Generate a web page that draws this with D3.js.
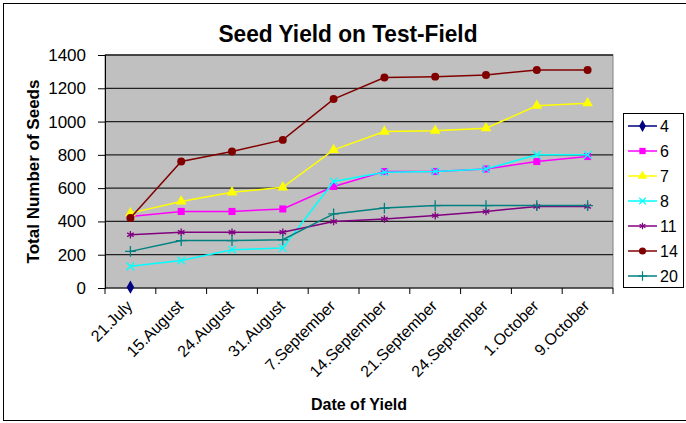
<!DOCTYPE html>
<html>
<head>
<meta charset="utf-8">
<script src="https://cdn.jsdelivr.net/npm/d3@7"></script>
<style>
  body { margin: 0; background: #fff; }
  text { font-family: "Liberation Sans", Arial, sans-serif; }
</style>
</head>
<body>
<div id="chart"></div>
<script>
// categories (dates of yield)
var dates = ["21.July", "15.August", "24.August", "31.August", "7.September",
             "14.September", "21.September", "24.September", "1.October", "9.October"];
var yTicks = [0, 200, 400, 600, 800, 1000, 1200, 1400];

// one array per plant
var s4  = [5, null, null, null, null, null, null, null, null, null];
var s6  = [430, 460, 460, 475, 610, 700, 700, 715, 760, 790];
var s7  = [450, 520, 575, 605, 830, 940, 945, 960, 1095, 1110];
var s8  = [130, 165, 230, 240, 640, 695, 700, 715, 800, 800];
var s11 = [320, 335, 335, 335, 400, 415, 435, 460, 490, 490];
var s14 = [420, 760, 820, 890, 1135, 1265, 1270, 1280, 1310, 1310];
var s20 = [220, 285, 285, 290, 445, 480, 495, 495, 495, 495];

var seriesNames = ["4", "6", "7", "8", "11", "14", "20"];
var seriesData = [s4, s6, s7, s8, s11, s14, s20];
var colors = ["#000080", "#ff00ff", "#ffff00", "#00ffff", "#800080", "#800000", "#008080"];
var symbols = [d3.symbolDiamond, d3.symbolSquare, d3.symbolTriangle, d3.symbolTimes,
               d3.symbolAsterisk, d3.symbolCircle, d3.symbolPlus];
var stroked = [false, false, false, true, true, false, true];

var W = 686, H = 423;
var margin = {top: 55, right: 73, bottom: 135, left: 105}
  , width = W - margin.left - margin.right
  , height = H - margin.top - margin.bottom;

var svg = d3.select("#chart").append("svg")
    .attr("width", W)
    .attr("height", H);

// outer chart border
svg.append("rect")
    .attr("x", 3.5).attr("y", 3.5)
    .attr("width", 690).attr("height", 417)
    .attr("fill", "none")
    .attr("stroke", "#000");

svg.append("text")
    .attr("x", 348)
    .attr("y", 42)
    .attr("text-anchor", "middle")
    .attr("textLength", 259)
    .attr("lengthAdjust", "spacingAndGlyphs")
    .style("font-size", "24px")
    .style("font-weight", "bold")
    .text("Seed Yield on Test-Field");

var g = svg.append("g")
    .attr("transform", "translate(" + margin.left + "," + margin.top + ")");

var xScale = d3.scaleBand()
    .domain(dates)
    .range([0, width])
    .padding(0);

var yScale = d3.scaleLinear()
    .domain([0, 1400])
    .range([height, 0]);

var cx = function(i) { return xScale(dates[i]) + xScale.bandwidth() / 2; };

// plot background
g.append("rect")
    .attr("width", width)
    .attr("height", height)
    .attr("fill", "#c0c0c0")
    .attr("stroke", "#808080");

// grid lines
g.selectAll(".grid")
    .data(yTicks.slice(1))
  .enter().append("line")
    .attr("class", "grid")
    .attr("x1", 0).attr("x2", width)
    .attr("y1", function(d) { return yScale(d); })
    .attr("y2", function(d) { return yScale(d); })
    .attr("stroke", "#222")
    .attr("stroke-width", 1.3);

// y axis
var yAxis = g.append("g")
    .call(d3.axisLeft(yScale).tickValues(yTicks).tickFormat(d3.format("d"))
        .tickSize(7).tickPadding(12));
yAxis.select(".domain").attr("stroke", "#000");
yAxis.selectAll("text").style("font-size", "17px").style("fill", "#000");

// x axis: ticks between categories, like the spreadsheet
var xAxis = g.append("g")
    .attr("transform", "translate(0," + height + ")");
xAxis.append("line")
    .attr("x1", 0).attr("x2", width)
    .attr("stroke", "#000");
var edges = dates.map(function(d) { return xScale(d); }).concat([width]);
xAxis.selectAll(".tick")
    .data(edges)
  .enter().append("line")
    .attr("class", "tick")
    .attr("x1", function(d) { return d; })
    .attr("x2", function(d) { return d; })
    .attr("y1", 0).attr("y2", 6)
    .attr("stroke", "#000");
xAxis.selectAll(".lbl")
    .data(dates)
  .enter().append("text")
    .attr("class", "lbl")
    .attr("text-anchor", "end")
    .attr("transform", function(d, i) {
        return "translate(" + (cx(i) + 3) + ",19)rotate(-45)";
    })
    .style("font-size", "16px")
    .text(function(d) { return d; });

// axis titles
svg.append("text")
    .attr("x", margin.left + width / 2)
    .attr("y", 410)
    .attr("text-anchor", "middle")
    .style("font-size", "16px")
    .style("font-weight", "bold")
    .text("Date of Yield");

svg.append("text")
    .attr("transform", "translate(39," + (margin.top + height / 2) + ")rotate(-90)")
    .attr("text-anchor", "middle")
    .style("font-size", "17px")
    .style("font-weight", "bold")
    .text("Total Number of Seeds");

// lines and markers
var line = d3.line()
    .defined(function(d) { return d != null; })
    .x(function(d, i) { return cx(i); })
    .y(function(d) { return yScale(d); });

seriesData.forEach(function(vals, k) {
    g.append("path")
        .datum(vals)
        .attr("fill", "none")
        .attr("stroke", colors[k])
        .attr("stroke-width", 1.5)
        .attr("d", line);

    var sym = d3.symbol().type(symbols[k]).size(stroked[k] ? 40 : 50);
    g.selectAll(".m" + k)
        .data(vals.map(function(v, i) { return {v: v, i: i}; })
                  .filter(function(d) { return d.v != null; }))
      .enter().append("path")
        .attr("class", "m" + k)
        .attr("transform", function(d) {
            return "translate(" + cx(d.i) + "," + yScale(d.v) + ")";
        })
        .attr("d", sym)
        .attr("fill", stroked[k] ? "none" : colors[k])
        .attr("stroke", colors[k])
        .attr("stroke-width", stroked[k] ? 1.3 : 0);
});

// legend
var legend = svg.append("g").attr("transform", "translate(623,113)");
legend.append("rect")
    .attr("x", 0.5).attr("y", 0.5)
    .attr("width", 60).attr("height", 174)
    .attr("fill", "#fff")
    .attr("stroke", "#000");

var items = legend.selectAll(".item")
    .data(seriesNames)
  .enter().append("g")
    .attr("class", "item")
    .attr("transform", function(d, k) { return "translate(0," + (13 + k * 25) + ")"; });

items.append("line")
    .attr("x1", 5).attr("x2", 34)
    .attr("stroke", function(d, k) { return colors[k]; })
    .attr("stroke-width", 1.5);

items.append("path")
    .attr("transform", "translate(19.5,0)")
    .attr("d", function(d, k) { return d3.symbol().type(symbols[k]).size(stroked[k] ? 30 : 40)(); })
    .attr("fill", function(d, k) { return stroked[k] ? "none" : colors[k]; })
    .attr("stroke", function(d, k) { return colors[k]; })
    .attr("stroke-width", function(d, k) { return stroked[k] ? 1.2 : 0; });

items.append("text")
    .attr("x", 37)
    .attr("y", 6)
    .style("font-size", "16px")
    .text(function(d) { return d; });
</script>
</body>
</html>
